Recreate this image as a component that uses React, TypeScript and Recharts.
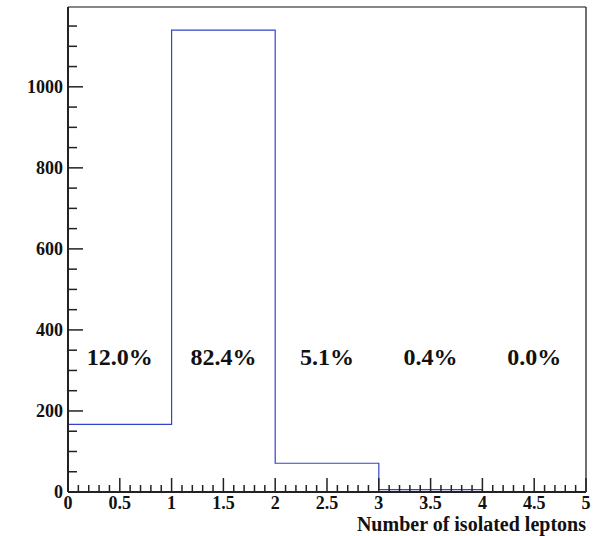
import React from "react";
import {
  ComposedChart,
  Line,
  XAxis,
  YAxis,
  ReferenceLine,
  ReferenceDot,
} from "recharts";

// histogram: bin edges and counts per bin
const binEdges = [0, 1, 2, 3, 4, 5];
const binCounts = [167, 1140, 71, 6, 0];
const binCenters = [0.5, 1.5, 2.5, 3.5, 4.5];
const percentLabels = ["12.0%", "82.4%", "5.1%", "0.4%", "0.0%"];
const labelLevel = 314;

const xTicks = [
  0, 0.1, 0.2, 0.3, 0.4, 0.5, 0.6, 0.7, 0.8, 0.9, 1, 1.1, 1.2, 1.3, 1.4, 1.5,
  1.6, 1.7, 1.8, 1.9, 2, 2.1, 2.2, 2.3, 2.4, 2.5, 2.6, 2.7, 2.8, 2.9, 3, 3.1,
  3.2, 3.3, 3.4, 3.5, 3.6, 3.7, 3.8, 3.9, 4, 4.1, 4.2, 4.3, 4.4, 4.5, 4.6, 4.7,
  4.8, 4.9, 5,
];
const xMajor = [0, 0.5, 1, 1.5, 2, 2.5, 3, 3.5, 4, 4.5, 5];
const yTicks = [
  0, 50, 100, 150, 200, 250, 300, 350, 400, 450, 500, 550, 600, 650, 700, 750,
  800, 850, 900, 950, 1000, 1050, 1100, 1150,
];
const yMajor = [0, 200, 400, 600, 800, 1000];
const yMax = 1197;

const data = binEdges.map((x, i) => ({
  x,
  count: binCounts[Math.min(i, binCounts.length - 1)],
}));

const FONT = "Liberation Serif, Times New Roman, serif";
const AXIS = "#222";

const XTick = (props: any) => {
  const { x, y, payload } = props;
  const v = payload.value;
  const major = xMajor.includes(v);
  return (
    <g>
      <line x1={x} y1={y} x2={x} y2={y - (major ? 14 : 7)} stroke={AXIS} strokeWidth={1.5} />
      {major && (
        <text x={x} y={y + 17} textAnchor="middle" style={{ fontFamily: FONT }} fontWeight="bold" fontSize={18} fill="#111">
          {String(v)}
        </text>
      )}
    </g>
  );
};

const YTick = (props: any) => {
  const { x, y, payload } = props;
  const v = payload.value;
  const major = yMajor.includes(v);
  return (
    <g>
      <line x1={x} y1={y} x2={x + (major ? 15 : 9)} y2={y} stroke={AXIS} strokeWidth={1.5} />
      {major && (
        <text x={x - 5} y={y + 6} textAnchor="end" style={{ fontFamily: FONT }} fontWeight="bold" fontSize={18} fill="#111">
          {String(v)}
        </text>
      )}
    </g>
  );
};

export default function App() {
  return (
    <div style={{ position: "absolute", left: 0, top: 0, background: "#fff", fontFamily: FONT }}>
      <ComposedChart
        width={597}
        height={536}
        data={data}
        margin={{ top: 7, right: 11, bottom: 0, left: 0 }}
      >
        <XAxis
          type="number"
          dataKey="x"
          domain={[0, 5]}
          ticks={xTicks}
          interval={0}
          tickSize={0}
          tickMargin={0}
          tickLine={false}
          tick={<XTick />}
          height={44}
          axisLine={{ stroke: AXIS, strokeWidth: 2 }}
          allowDataOverflow
        />
        <YAxis
          type="number"
          domain={[0, yMax]}
          ticks={yTicks}
          interval={0}
          tickSize={0}
          tickMargin={0}
          tickLine={false}
          tick={<YTick />}
          width={68}
          axisLine={{ stroke: AXIS, strokeWidth: 2 }}
          allowDataOverflow
        />
        <ReferenceLine y={yMax} stroke="#111" strokeWidth={1.2} />
        <ReferenceLine x={5} stroke="#111" strokeWidth={1.2} />
        <Line
          type="stepAfter"
          dataKey="count"
          stroke="#3344cc"
          strokeWidth={1.2}
          dot={false}
          isAnimationActive={false}
        />
        {binCenters.map((c, i) => (
          <ReferenceDot
            key={c}
            x={c}
            y={labelLevel}
            r={0}
            shape={(p: any) => (
              <text
                x={p.cx}
                y={p.cy}
                textAnchor="middle"
                style={{ fontFamily: FONT }}
                fontWeight="bold"
                fontSize={24}
                fill="#111"
              >
                {percentLabels[i]}
              </text>
            )}
          />
        ))}
      </ComposedChart>
      <div
        style={{
          position: "absolute",
          right: 11,
          top: 514,
          fontFamily: FONT,
          fontWeight: "bold",
          fontSize: 20,
          lineHeight: "20px",
          color: "#111",
          whiteSpace: "nowrap",
        }}
      >
        Number of isolated leptons
      </div>
    </div>
  );
}
